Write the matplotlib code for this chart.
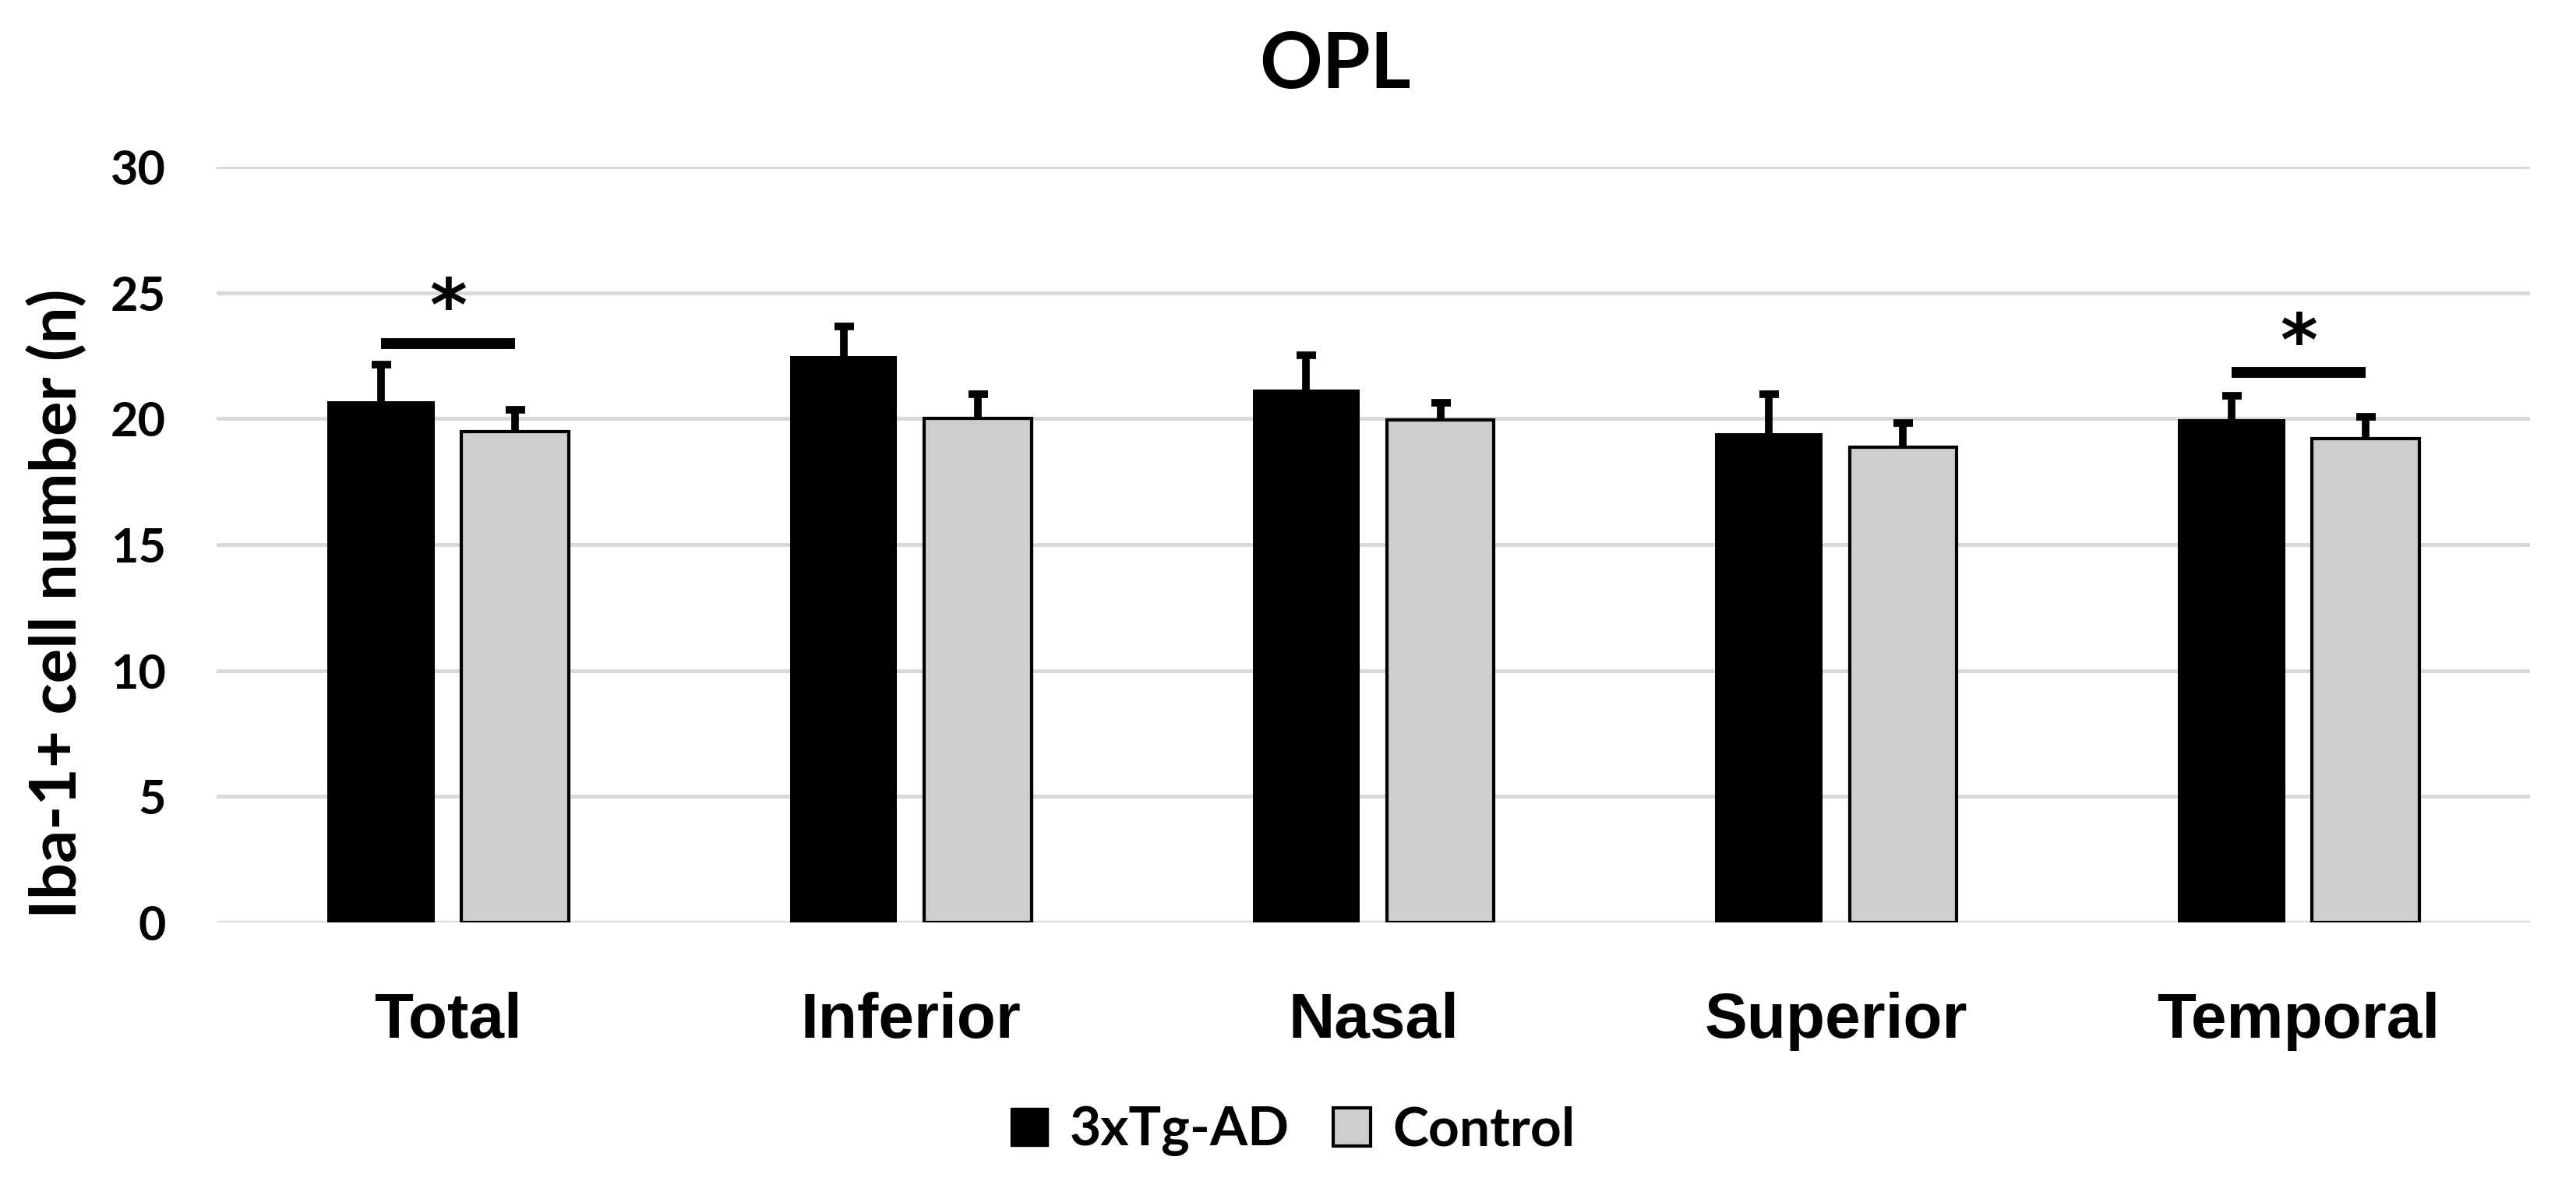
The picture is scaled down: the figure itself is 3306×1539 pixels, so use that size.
import numpy as np
import matplotlib
matplotlib.use("Agg")
import matplotlib.pyplot as plt
from matplotlib.patches import Patch

# data
regions = ["Total", "Inferior", "Nasal", "Superior", "Temporal"]
tg_mean = [20.68, 22.48, 21.15, 19.43, 19.98]
tg_err = [1.46, 1.19, 1.37, 1.55, 0.92]
ctrl_mean = [19.49, 20.02, 19.94, 18.87, 19.20]
ctrl_err = [0.85, 0.96, 0.68, 0.95, 0.88]
sig_groups = [0, 4]          # regions marked with *
sig_line_y = [22.99, 21.83]
sig_star_y = [24.6, 23.2]
yticks = [0, 5, 10, 15, 20, 25, 30]

W, H = 3306, 1539
fig = plt.figure(figsize=(W / 100, H / 100), dpi=100)
ax = fig.add_axes([278 / W, 1 - 1184 / H, (3247 - 278) / W, (1184 - 214) / H])

x = np.arange(len(regions))
bw = 0.232
off = 0.145
tg = np.array(tg_mean)
ct = np.array(ctrl_mean)

ax.bar(x - off, tg, bw, color="black", edgecolor="black", linewidth=0, zorder=3)
ax.bar(x + off, ct, bw, color="#cfcdcd", edgecolor="black", linewidth=3, zorder=3)

# upper-only error bars with a cap on top
for xs, m, e in [(x - off, tg, tg_err), (x + off, ct, ctrl_err)]:
    ax.vlines(xs, m, m + np.array(e), color="black", linewidth=7, zorder=4)
    ax.plot(xs, m + np.array(e), linestyle="none", marker="_", markersize=18,
            markeredgewidth=7, color="black", zorder=4)

# significance bars
for g, ly, sy in zip(sig_groups, sig_line_y, sig_star_y):
    ax.plot([g - off, g + off], [ly, ly], color="black", linewidth=10,
            solid_capstyle="butt", zorder=4)
    ax.text(g, sy, "*", ha="center", va="center_baseline", fontsize=66,
            fontweight="bold", family="DejaVu Sans")

ax.set_xlim(-0.5, len(regions) - 0.5)
ax.set_ylim(0, 30)
ax.set_yticks(yticks)
ax.set_xticks(x)
ax.set_xticklabels(regions, fontsize=59, fontweight="bold", family="Liberation Sans")
for lab in ax.get_yticklabels():
    lab.set_fontsize(44)
    lab.set_fontweight("bold")
    lab.set_family("Lato")
ax.tick_params(axis="y", length=0, pad=47)
ax.tick_params(axis="x", length=0, pad=64)

ax.grid(axis="y", color="#d9d9d9", linewidth=3.5)
ax.set_axisbelow(True)
for s in ax.spines.values():
    s.set_visible(False)

fig.text(73 / W, 1 - 775 / H, "Iba-1+ cell number (n)", rotation=90,
         ha="center", va="center", fontsize=60, fontweight="bold", family="Lato")
fig.text(1714 / W, 1 - 85 / H, "OPL", ha="center", va="center",
         fontsize=72, fontweight="bold", family="Lato")

handles = [Patch(facecolor="black", edgecolor="black", label="3xTg-AD"),
           Patch(facecolor="#cfcdcd", edgecolor="black", linewidth=3, label="Control")]
fig.legend(handles=handles, loc="center", bbox_to_anchor=(1659 / W, 1 - 1452 / H),
           ncol=2, frameon=False, handlelength=0.7, handleheight=0.7,
           handletextpad=0.4, columnspacing=0.8,
           prop={"family": "Lato", "weight": "bold", "size": 50})

fig.savefig("out.png", dpi=100)
